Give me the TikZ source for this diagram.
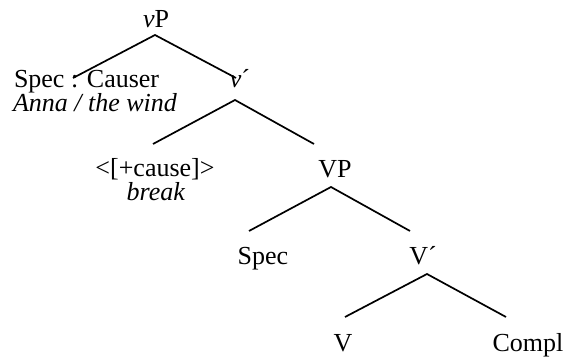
\documentclass[tikz,border=0pt]{standalone}
\usepackage{fontspec}
\setmainfont{Liberation Serif}
\begin{document}
\begin{tikzpicture}[x=1pt,y=-1pt,
  lbl/.style={inner sep=0pt,outer sep=0pt,font=\fontsize{26}{24}\selectfont,anchor=base},
  lblw/.style={lbl,anchor=base west},
  branch/.style={line width=1.7pt,line cap=butt,line join=miter}]
\useasboundingbox (0,0) rectangle (566,358);
% labels
\node[lbl] (vP) at (156,28) {\textit{v}P};
\node[lblw] (spec1) at (14,88) {Spec : Causer};
\node[lblw] (anna) at (13,112) {\textit{Anna / the wind}};
\node[lbl] (vbar) at (240,88) {\textit{v}\char"00B4};
\node[lbl] (cause) at (155,177) {<[+cause]>};
\node[lbl] (break) at (156,201) {\textit{break}};
\node[lbl] (VP) at (335,178) {VP};
\node[lbl] (spec2) at (263,265) {Spec};
\node[lbl] (Vbar) at (423,265) {V\char"00B4};
\node[lbl] (V) at (343,352) {V};
\node[lbl] (compl) at (528,352) {Compl};
% branch points
\coordinate (a1) at (155,35);
\coordinate (l1) at (73,78);
\coordinate (r1) at (236,78);
\coordinate (a2) at (235,100);
\coordinate (l2) at (153,144);
\coordinate (r2) at (314,144);
\coordinate (a3) at (331,187);
\coordinate (l3) at (249,231);
\coordinate (r3) at (410,231);
\coordinate (a4) at (427,274);
\coordinate (l4) at (345,317);
\coordinate (r4) at (506,317);
% branches
\draw[branch] (l1) -- (a1) -- (r1);
\draw[branch] (l2) -- (a2) -- (r2);
\draw[branch] (l3) -- (a3) -- (r3);
\draw[branch] (l4) -- (a4) -- (r4);
\end{tikzpicture}
\end{document}
